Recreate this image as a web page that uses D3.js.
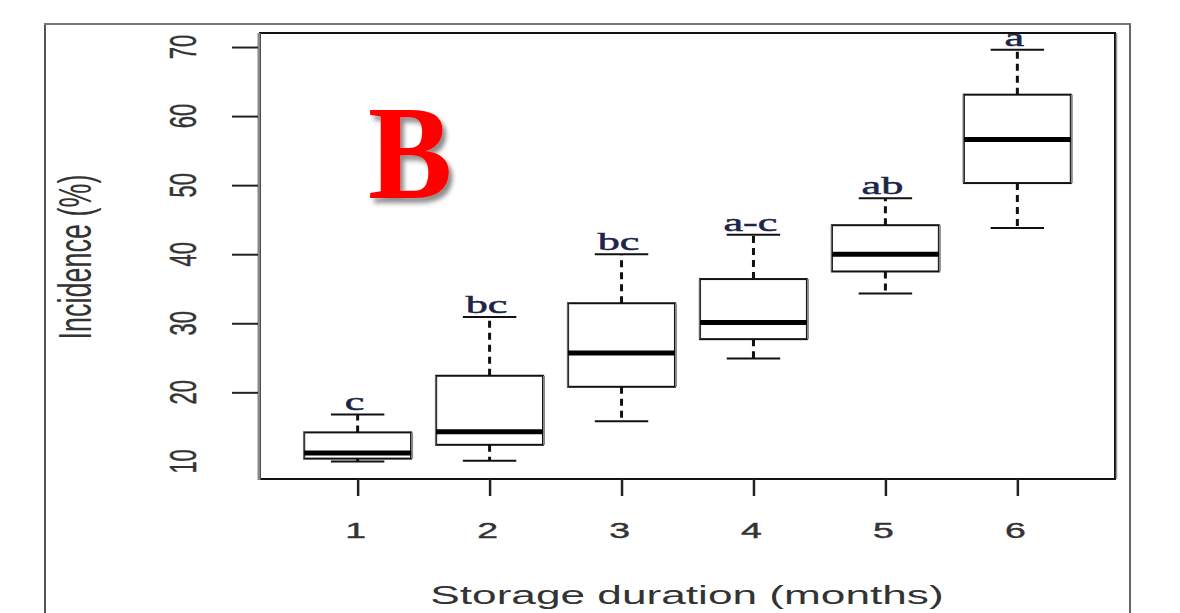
<!DOCTYPE html>
<html>
<head>
<meta charset="utf-8">
<script src="https://cdn.jsdelivr.net/npm/d3@7"></script>
<style>
  html, body { margin: 0; padding: 0; background: #fff; }
  svg { display: block; }
</style>
</head>
<body>
<svg id="chart" width="1180" height="613"></svg>
<script>
// ---- data ----
const categories   = ["1", "2", "3", "4", "5", "6"];
const lowWhisker   = [10.0, 10.1, 15.8, 24.9, 34.3, 43.8];
const q1           = [10.4, 12.4, 20.8, 27.7, 37.5, 50.3];
const medians      = [11.2, 14.3, 25.7, 30.1, 40.0, 56.6];
const q3           = [14.2, 22.4, 32.9, 36.4, 44.2, 63.1];
const highWhisker  = [16.8, 30.9, 40.0, 42.8, 48.1, 69.6];
const groupLetters = ["c", "bc", "bc", "a-c", "ab", "a"];
const yTicks       = [10, 20, 30, 40, 50, 60, 70];
const xTitle = "Storage duration (months)";
const yTitle = "Incidence (%)";
const panelLabel = "B";

// ---- layout ----
const plot = { left: 260, right: 1115, top: 33, bottom: 479 };
const sx = 1.7; // horizontal stretch of the original R graphic's text

const svg = d3.select("#chart");

const defs = svg.append("defs");
const f = defs.append("filter").attr("id", "shadow")
  .attr("x", "-20%").attr("y", "-20%").attr("width", "150%").attr("height", "150%");
f.append("feDropShadow").attr("dx", 4).attr("dy", 5).attr("stdDeviation", 2.5)
  .attr("flood-color", "#000").attr("flood-opacity", 0.45);

const x = d3.scaleLinear().domain([0.26, 6.74]).range([plot.left, plot.right]);
const y = d3.scaleLinear().domain([7.45, 72.03]).range([plot.bottom, plot.top]);
const unit = x(2) - x(1);
const boxW = 0.81 * unit;
const capW = boxW / 2;

// outer frame (figure border)
const frame = svg.append("g").attr("stroke", "#555").attr("stroke-width", 2).attr("fill", "none");
frame.append("line").attr("x1", 45).attr("x2", 45).attr("y1", 24).attr("y2", 613);
frame.append("line").attr("x1", 44).attr("x2", 1131).attr("y1", 24).attr("y2", 24).attr("stroke", "#777");
frame.append("line").attr("x1", 1130).attr("x2", 1130).attr("y1", 24).attr("y2", 613).attr("stroke", "#666");

// plot box
svg.append("rect")
  .attr("x", plot.left).attr("y", plot.top)
  .attr("width", plot.right - plot.left).attr("height", plot.bottom - plot.top)
  .attr("fill", "none").attr("stroke", "#111").attr("stroke-width", 2);
svg.append("line").attr("x1", plot.left - 1).attr("x2", plot.left - 1)
  .attr("y1", plot.top).attr("y2", plot.bottom + 1)
  .attr("stroke", "#888").attr("stroke-width", 3);
svg.append("line").attr("x1", plot.right + 1.5).attr("x2", plot.right + 1.5)
  .attr("y1", plot.top).attr("y2", plot.bottom)
  .attr("stroke", "#999").attr("stroke-width", 1.5);

// y axis ticks
const yAxis = svg.append("g")
  .attr("transform", `translate(${plot.left - 2},0)`)
  .call(d3.axisLeft(y).tickValues(yTicks).tickSize(26).tickFormat(""));
yAxis.select(".domain").remove();
yAxis.selectAll(".tick line").attr("stroke", "#222").attr("stroke-width", 2)
  .attr("opacity", d => d === 10 ? 0 : 1);

// y tick labels (rotated, stretched)
svg.append("g").selectAll("text").data(yTicks).join("text")
  .attr("transform", d => `translate(196,${y(d)}) scale(${sx},1) rotate(-90)`)
  .attr("text-anchor", "middle")
  .attr("font-family", "Liberation Sans, Arial, sans-serif")
  .attr("font-size", 22)
  .attr("fill", "#333").attr("stroke", "#333").attr("stroke-width", 0.3)
  .text(d => d);

// x axis ticks
const xAxis = svg.append("g")
  .attr("transform", `translate(0,${plot.bottom})`)
  .call(d3.axisBottom(x).tickValues(categories.map((c, i) => i + 1)).tickSize(17).tickFormat(""));
xAxis.select(".domain").remove();
xAxis.selectAll(".tick line").attr("stroke", "#222").attr("stroke-width", 2.5);

svg.append("g").selectAll("text").data(categories).join("text")
  .attr("transform", (d, i) => `translate(${x(i + 1) - 2},538) scale(${sx},1)`)
  .attr("text-anchor", "middle")
  .attr("font-family", "Liberation Sans, Arial, sans-serif")
  .attr("font-size", 22)
  .attr("fill", "#333").attr("stroke", "#333").attr("stroke-width", 0.4)
  .text(d => d);

// axis titles
svg.append("text")
  .attr("transform", `translate(687,604) scale(${sx},1)`)
  .attr("text-anchor", "middle")
  .attr("font-family", "Liberation Sans, Arial, sans-serif")
  .attr("font-size", 26)
  .attr("fill", "#333")
  .text(xTitle);

svg.append("text")
  .attr("transform", `translate(91,257) scale(${sx},1) rotate(-90)`)
  .attr("text-anchor", "middle")
  .attr("font-family", "Liberation Sans, Arial, sans-serif")
  .attr("font-size", 27)
  .attr("fill", "#333")
  .text(yTitle);

// boxes
const boxes = categories.map((c, i) => ({
  i, cx: x(i + 1),
  lo: lowWhisker[i], q1: q1[i], med: medians[i], q3: q3[i], hi: highWhisker[i],
  letter: groupLetters[i]
}));

const g = svg.append("g");
const bx = g.selectAll("g.box").data(boxes).join("g").attr("class", "box");

// whiskers (dashed)
bx.append("line")
  .attr("x1", d => d.cx).attr("x2", d => d.cx)
  .attr("y1", d => y(d.q3)).attr("y2", d => y(d.hi))
  .attr("stroke", "#111").attr("stroke-width", 3).attr("stroke-dasharray", "7,5");
bx.append("line")
  .attr("x1", d => d.cx).attr("x2", d => d.cx)
  .attr("y1", d => y(d.q1)).attr("y2", d => y(d.lo))
  .attr("stroke", "#111").attr("stroke-width", 3).attr("stroke-dasharray", "7,5");
// caps
bx.append("line")
  .attr("x1", d => d.cx - capW / 2).attr("x2", d => d.cx + capW / 2)
  .attr("y1", d => y(d.hi)).attr("y2", d => y(d.hi))
  .attr("stroke", "#111").attr("stroke-width", 2);
bx.append("line")
  .attr("x1", d => d.cx - capW / 2).attr("x2", d => d.cx + capW / 2)
  .attr("y1", d => y(d.lo)).attr("y2", d => y(d.lo))
  .attr("stroke", "#111").attr("stroke-width", 2);
// box body
bx.append("rect")
  .attr("x", d => d.cx - boxW / 2).attr("width", boxW)
  .attr("y", d => y(d.q3)).attr("height", d => y(d.q1) - y(d.q3))
  .attr("fill", "#fff").attr("stroke", "#111").attr("stroke-width", 2);
// thicker side edges
bx.append("line")
  .attr("x1", d => d.cx + boxW / 2 + 1).attr("x2", d => d.cx + boxW / 2 + 1)
  .attr("y1", d => y(d.q3)).attr("y2", d => y(d.q1))
  .attr("stroke", "#888").attr("stroke-width", 2);
bx.append("line")
  .attr("x1", d => d.cx - boxW / 2 - 0.5).attr("x2", d => d.cx - boxW / 2 - 0.5)
  .attr("y1", d => y(d.q3)).attr("y2", d => y(d.q1))
  .attr("stroke", "#666").attr("stroke-width", 1.5);
// median
bx.append("line")
  .attr("x1", d => d.cx - boxW / 2).attr("x2", d => d.cx + boxW / 2)
  .attr("y1", d => y(d.med)).attr("y2", d => y(d.med))
  .attr("stroke", "#000").attr("stroke-width", 5);
// significance letters
bx.append("text")
  .attr("transform", d => `translate(${d.cx - 3},${y(d.hi) - 4}) scale(${sx},1)`)
  .attr("text-anchor", "middle")
  .attr("font-family", "Liberation Serif, Times New Roman, serif")
  .attr("font-size", 26)
  .attr("fill", "#1c2547").attr("stroke", "#1c2547").attr("stroke-width", 0.5)
  .text(d => d.letter);

// panel label
svg.append("text")
  .attr("transform", "translate(368,198) scale(0.95,1)")
  .attr("font-family", "Liberation Serif, Times New Roman, serif")
  .attr("font-weight", "bold")
  .attr("font-size", 133)
  .attr("fill", "#ff0000")
  .attr("filter", "url(#shadow)")
  .text(panelLabel);
</script>
</body>
</html>
